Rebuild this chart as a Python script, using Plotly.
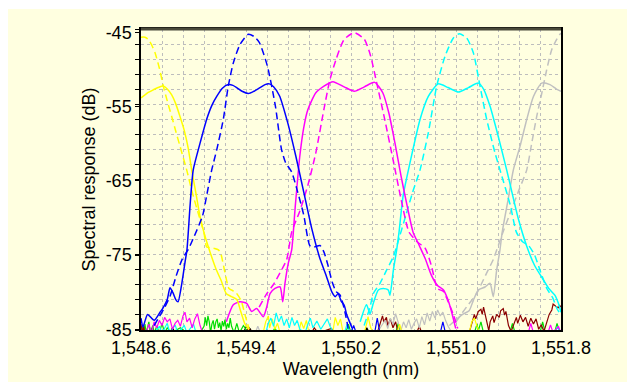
import plotly.graph_objects as go

# ---------------- data (wavelength nm, response dB) ----------------
yellow_solid = [(1548.60,-53.8),(1548.65,-53.1),(1548.694,-52.7),(1548.73,-52.4),(1548.77,-52.2),(1548.80,-52.6),
                (1548.834,-53.4),(1548.865,-54.6),(1548.897,-56.3),(1548.93,-58.2),(1548.96,-60.6),(1548.986,-63.5),
                (1549.02,-66.8),(1549.05,-69.8),(1549.09,-72.6),(1549.13,-74.8),(1549.17,-76.8),(1549.21,-78.4),
                (1549.25,-80.2),(1549.29,-80.6),(1549.33,-81.0),(1549.36,-82.6),(1549.39,-84.2),(1549.42,-85.0)]
yellow_dash = [(1548.60,-45.6),(1548.63,-45.6),(1548.656,-45.9),(1548.68,-46.6),(1548.707,-47.7),(1548.74,-49.8),
               (1548.77,-52.2),(1548.80,-54.2),(1548.834,-56.3),(1548.865,-58.3),(1548.897,-60.3),(1548.948,-63.5),
               (1548.99,-66.5),(1549.04,-69.6),(1549.08,-72.0),(1549.10,-73.9),(1549.13,-74.0),(1549.161,-74.1),
               (1549.19,-74.3),(1549.208,-74.8),(1549.239,-77.3),(1549.27,-79.5),(1549.30,-79.8),(1549.316,-79.9),
               (1549.362,-81.1),(1549.393,-83.1),(1549.424,-85.0)]
blue_solid = [(1548.60,-83.5),(1548.615,-84.7),(1548.65,-83.0),(1548.70,-83.8),(1548.745,-82.7),(1548.768,-82.1),
              (1548.80,-81.0),(1548.821,-79.4),(1548.844,-80.1),(1548.865,-81.0),(1548.882,-81.3),(1548.912,-78.7),
              (1548.935,-76.0),(1548.95,-74.3),(1548.976,-67.8),(1548.998,-63.5),(1549.05,-59.9),(1549.10,-56.7),
              (1549.14,-54.8),(1549.177,-53.6),(1549.22,-52.5),(1549.265,-52.0),(1549.30,-52.1),(1549.329,-52.4),
              (1549.37,-52.9),(1549.418,-53.2),(1549.46,-52.9),(1549.507,-52.4),(1549.545,-52.0),(1549.578,-51.9),
              (1549.61,-52.3),(1549.655,-53.5),(1549.717,-57.1),(1549.779,-61.6),(1549.84,-66.5),(1549.902,-71.5),
              (1549.964,-75.5),(1550.01,-77.7),(1550.055,-80.0),(1550.08,-80.6),(1550.102,-80.2),(1550.125,-81.2),
              (1550.149,-81.8),(1550.165,-82.9),(1550.18,-83.6),(1550.21,-84.9)]
blue_dash = [(1548.70,-84.5),(1548.729,-83.6),(1548.776,-82.2),(1548.822,-80.5),(1548.868,-77.8),(1548.915,-75.5),
             (1548.961,-74.2),(1549.007,-72.4),(1549.069,-69.7),(1549.10,-67.0),(1549.139,-63.5),(1549.177,-60.8),
             (1549.227,-56.7),(1549.265,-52.2),(1549.303,-49.1),(1549.354,-46.6),(1549.418,-45.2),(1549.46,-45.5),
             (1549.501,-46.3),(1549.563,-49.5),(1549.624,-54.9),(1549.67,-60.7),(1549.701,-62.5),(1549.748,-63.8),
             (1549.794,-66.5),(1549.84,-69.6),(1549.886,-73.7),(1549.917,-73.9),(1549.964,-73.7),(1549.994,-74.6),
             (1550.025,-76.4),(1550.056,-78.6),(1550.086,-79.9),(1550.117,-80.4),(1550.148,-82.2),(1550.179,-84.9)]
magenta_solid = [(1549.25,-84.0),(1549.303,-81.7),(1549.354,-81.3),(1549.405,-81.5),(1549.443,-82.6),(1549.481,-82.2),
                 (1549.532,-83.3),(1549.558,-82.0),(1549.583,-80.2),(1549.621,-79.5),(1549.66,-79.3),(1549.68,-81.3),
                 (1549.697,-78.8),(1549.722,-76.1),(1549.748,-74.3),(1549.775,-68.5),(1549.809,-61.8),(1549.84,-57.8),
                 (1549.871,-55.4),(1549.932,-53.1),(1549.994,-52.2),(1550.062,-51.6),(1550.148,-52.3),(1550.225,-52.9),
                 (1550.302,-52.3),(1550.38,-51.7),(1550.442,-53.1),(1550.488,-55.8),(1550.534,-59.8),(1550.581,-64.3),
                 (1550.627,-68.3),(1550.673,-71.9),(1550.72,-73.7),(1550.766,-75.5),(1550.812,-77.7),(1550.859,-79.1),
                 (1550.905,-79.7),(1550.936,-80.9),(1550.967,-82.7),(1550.998,-84.9)]
magenta_dash = [(1549.50,-82.0),(1549.558,-80.2),(1549.608,-79.0),(1549.659,-77.4),(1549.71,-75.6),(1549.748,-71.9),
                (1549.809,-69.1),(1549.871,-65.6),(1549.932,-61.2),(1549.994,-55.3),(1550.04,-51.3),(1550.086,-48.6),
                (1550.148,-45.9),(1550.225,-45.0),(1550.302,-45.9),(1550.349,-48.1),(1550.395,-51.7),(1550.457,-56.7),
                (1550.519,-62.0),(1550.581,-67.4),(1550.642,-71.9),(1550.704,-73.2),(1550.766,-74.1),(1550.812,-76.4),
                (1550.859,-79.5),(1550.905,-79.9),(1550.936,-81.1),(1550.982,-83.1),(1551.013,-84.9)]
cyan_solid = [(1550.27,-84.0),(1550.318,-81.7),(1550.345,-82.9),(1550.37,-81.5),(1550.408,-79.7),(1550.446,-79.5),
              (1550.484,-79.7),(1550.497,-80.4),(1550.523,-77.0),(1550.548,-74.3),(1550.566,-71.9),(1550.597,-67.0),
              (1550.65,-62.5),(1550.726,-56.7),(1550.789,-53.6),(1550.865,-51.9),(1550.94,-52.4),(1551.018,-53.0),
              (1551.095,-52.4),(1551.17,-51.8),(1551.21,-52.6),(1551.259,-54.9),(1551.322,-59.0),(1551.386,-63.5),
              (1551.414,-65.6),(1551.475,-70.1),(1551.537,-73.7),(1551.599,-76.4),(1551.661,-78.2),(1551.707,-79.5),
              (1551.753,-80.4),(1551.78,-81.5),(1551.80,-82.7)]
cyan_dash = [(1550.30,-84.5),(1550.345,-82.0),(1550.37,-80.2),(1550.421,-78.8),(1550.472,-77.0),(1550.523,-75.2),
             (1550.57,-72.5),(1550.62,-69.5),(1550.67,-66.5),(1550.726,-63.5),(1550.789,-58.5),(1550.853,-52.2),
             (1550.916,-48.2),(1550.98,-45.7),(1551.025,-45.15),(1551.081,-45.7),(1551.132,-47.7),(1551.183,-52.2),
             (1551.234,-56.7),(1551.297,-61.2),(1551.335,-63.5),(1551.414,-68.3),(1551.46,-71.9),(1551.507,-73.2),
             (1551.553,-73.7),(1551.599,-75.0),(1551.645,-77.3),(1551.692,-79.5),(1551.738,-80.8),(1551.769,-82.2),
             (1551.80,-83.1)]
gray_solid = [(1550.95,-84.5),(1551.05,-83.0),(1551.10,-82.5),(1551.132,-81.1),(1551.17,-79.7),(1551.221,-79.3),
              (1551.259,-78.8),(1551.284,-80.6),(1551.31,-77.0),(1551.335,-74.3),(1551.352,-71.9),(1551.398,-67.4),
              (1551.437,-63.5),(1551.488,-60.3),(1551.539,-56.7),(1551.59,-53.6),(1551.653,-51.8),(1551.716,-52.0),
              (1551.765,-52.6),(1551.80,-52.9)]
gray_dash = [(1551.00,-84.0),(1551.08,-82.0),(1551.157,-80.2),(1551.196,-78.8),(1551.234,-77.4),(1551.284,-75.6),
             (1551.31,-74.3),(1551.36,-71.8),(1551.42,-69.0),(1551.48,-66.2),(1551.539,-63.5),(1551.577,-59.9),
             (1551.615,-56.3),(1551.653,-53.2),(1551.691,-50.0),(1551.729,-47.3),(1551.767,-45.9),(1551.792,-45.2),
             (1551.80,-45.1)]

# noise floor traces
green_noise = [(1548.60,-85.5),(1548.61,-84.6),(1548.62,-85.5),(1548.63,-84.3),(1548.64,-85.5),(1548.66,-84.0),
               (1548.67,-85.5),(1548.69,-84.5),(1548.70,-85.5),(1548.72,-84.6),(1548.74,-85.5),(1548.76,-84.2),
               (1548.78,-85.5),(1548.80,-84.8),(1548.83,-85.5),(1548.90,-84.8),(1548.95,-85.5),(1549.05,-85.5),
               (1549.08,-84.6),(1549.09,-83.4),(1549.10,-84.5),(1549.11,-83.2),(1549.12,-84.0),(1549.13,-85.5),
               (1549.14,-84.3),(1549.15,-83.8),(1549.16,-85.0),(1549.17,-84.0),(1549.18,-83.6),(1549.19,-84.8),
               (1549.20,-84.1),(1549.21,-85.2),(1549.22,-83.9),(1549.23,-84.6),(1549.24,-83.7),(1549.25,-85.0),
               (1549.26,-84.2),(1549.27,-84.8),(1549.28,-83.5),(1549.29,-84.6),(1549.31,-85.5),(1549.33,-84.2),
               (1549.35,-85.5),(1549.38,-84.5),(1549.42,-85.5),(1549.60,-85.5),(1549.62,-84.8),(1549.64,-85.5),
               (1550.16,-85.5),(1550.18,-84.3),(1550.20,-85.5),(1550.54,-85.5),(1550.56,-84.2),(1550.58,-85.5),
               (1551.14,-85.5),(1551.16,-84.3),(1551.17,-85.2),(1551.19,-84.0),(1551.21,-85.5),(1551.41,-85.5),
               (1551.43,-84.2),(1551.45,-85.5),(1551.64,-85.5),(1551.66,-84.0),(1551.68,-85.5),(1551.75,-85.5),
               (1551.77,-84.2),(1551.79,-85.5)]
maroon_noise = [(1548.60,-84.3),(1548.61,-85.5),(1548.62,-84.6),(1548.63,-85.5),(1549.40,-85.5),(1549.42,-84.7),
                (1549.44,-85.5),(1549.90,-85.5),(1549.92,-84.8),(1549.95,-85.5),(1550.05,-84.9),(1550.08,-85.5),
                (1550.40,-85.5),(1550.42,-84.3),(1550.44,-83.2),(1550.45,-84.0),(1550.47,-83.4),(1550.48,-84.5),
                (1550.50,-83.6),(1550.52,-84.8),(1550.54,-84.0),(1550.56,-85.5),(1550.70,-85.5),(1550.72,-84.6),
                (1550.74,-85.5),(1551.10,-85.5),(1551.12,-84.2),(1551.14,-83.0),(1551.15,-83.6),(1551.17,-82.6),
                (1551.19,-82.3),(1551.20,-83.0),(1551.21,-82.0),(1551.22,-82.8),(1551.24,-84.0),(1551.25,-85.2),
                (1551.26,-84.0),(1551.28,-83.2),(1551.29,-84.1),(1551.31,-83.0),(1551.33,-83.4),(1551.34,-82.5),
                (1551.36,-82.2),(1551.37,-83.1),(1551.38,-82.6),(1551.40,-84.5),(1551.42,-85.3),(1551.44,-84.4),
                (1551.46,-83.4),(1551.47,-84.2),(1551.49,-83.1),(1551.51,-84.0),(1551.53,-83.4),(1551.55,-84.6),
                (1551.57,-83.5),(1551.59,-84.3),(1551.61,-83.6),(1551.63,-85.0),(1551.65,-84.4),(1551.67,-85.3),
                (1551.69,-84.0),(1551.71,-83.0),(1551.73,-82.4),(1551.74,-81.6),(1551.76,-81.9),(1551.78,-82.1),
                (1551.79,-81.8),(1551.80,-82.0)]
magenta_noise = [(1548.60,-85.5),(1548.64,-85.5),(1548.66,-84.3),(1548.68,-85.5),(1548.70,-84.0),(1548.72,-84.8),
                 (1548.74,-83.8),(1548.76,-84.5),(1548.78,-83.4),(1548.80,-84.0),(1548.82,-83.6),(1548.84,-85.0),
                 (1548.86,-84.2),(1548.88,-83.8),(1548.90,-84.6),(1548.92,-83.2),(1548.935,-82.7),(1548.95,-84.0),
                 (1548.97,-83.5),(1548.99,-84.8),(1549.01,-83.6),(1549.03,-82.9),(1549.05,-84.5),(1549.07,-85.5),
                 (1551.55,-85.5),(1551.57,-84.2),(1551.59,-85.5),(1551.70,-85.5),(1551.72,-84.4),(1551.74,-85.5),
                 (1551.78,-84.6),(1551.80,-85.5)]
cyan_noise = [(1548.70,-85.5),(1548.74,-84.6),(1548.76,-85.5),(1548.80,-84.2),(1548.82,-85.5),(1548.86,-84.4),
              (1548.88,-85.5),(1548.93,-84.5),(1548.95,-85.5),(1549.00,-84.3),(1549.02,-85.5),(1549.55,-85.5),
              (1549.57,-84.2),(1549.59,-83.5),(1549.61,-84.6),(1549.63,-82.8),(1549.65,-84.0),(1549.67,-83.2),
              (1549.69,-84.5),(1549.71,-83.6),(1549.73,-84.8),(1549.75,-83.4),(1549.77,-84.5),(1549.79,-83.8),
              (1549.81,-85.0),(1549.85,-85.5),(1549.87,-84.4),(1549.89,-83.5),(1549.91,-84.8),(1549.94,-83.9),
              (1549.97,-85.0),(1550.00,-84.2),(1550.02,-83.6),(1550.04,-84.6),(1550.07,-85.5),(1550.15,-85.5),
              (1550.17,-84.3),(1550.19,-85.5),(1551.75,-85.5),(1551.77,-84.7),(1551.80,-85.5)]
yellow_noise = [(1549.45,-85.5),(1549.53,-85.5),(1549.55,-84.0),(1549.57,-83.2),(1549.58,-84.8),(1549.60,-83.6),
                (1549.62,-85.0),(1549.64,-84.2),(1549.66,-85.5),(1549.80,-85.5),(1549.82,-84.0),(1549.84,-84.9),
                (1549.86,-83.8),(1549.88,-85.5),(1550.06,-85.5),(1550.08,-83.4),(1550.10,-84.5),(1550.12,-83.6),
                (1550.14,-85.5),(1550.30,-85.5),(1550.32,-84.2),(1550.33,-83.3),(1550.35,-84.8),(1550.37,-85.5),
                (1550.55,-85.5),(1550.57,-84.3),(1550.59,-85.5),(1551.10,-85.5),(1551.12,-84.0),(1551.14,-83.5),
                (1551.16,-84.6),(1551.18,-85.5)]
gray_noise = [(1549.47,-85.5),(1549.49,-84.6),(1549.51,-85.5),(1550.40,-85.5),(1550.43,-84.6),(1550.46,-83.8),
              (1550.48,-84.9),(1550.50,-83.5),(1550.52,-84.3),(1550.54,-82.9),(1550.56,-84.1),(1550.58,-85.2),
              (1550.60,-84.0),(1550.62,-84.8),(1550.64,-83.7),(1550.66,-85.0),(1550.68,-84.2),(1550.70,-83.6),
              (1550.72,-84.8),(1550.74,-83.3),(1550.76,-84.4),(1550.78,-82.8),(1550.80,-83.9),(1550.82,-82.6),
              (1550.84,-83.5),(1550.86,-82.4),(1550.88,-83.2),(1550.90,-82.7),(1550.92,-83.8),(1550.94,-84.6),
              (1550.97,-85.5)]
blue_noise = [(1550.20,-85.5),(1550.22,-84.5),(1550.24,-85.5),(1550.38,-85.5),(1550.40,-83.5),(1550.42,-85.5),
              (1550.88,-85.5),(1550.90,-84.0),(1550.92,-85.5)]
black_noise = [(1548.82,-85.5),(1548.84,-84.8),(1548.86,-85.5),(1549.38,-85.5),(1549.40,-84.7),(1549.43,-84.9),
               (1549.45,-85.5),(1550.30,-85.5),(1550.32,-84.8),(1550.34,-85.5)]

x_ticks = [1548.6, 1549.4, 1550.2, 1551.0, 1551.8]
y_ticks = [-45, -55, -65, -75, -85]
y_tick_labels = ["-45", "-55", "-65", "-75", "-85"]
x_range = [1548.6, 1551.8]
y_range = [-85.1, -44.5]

BG = "#FFFFE0"
FONT = "Liberation Sans, Arial, sans-serif"
FS = 18

fig = go.Figure()

def add(series, color, dash=None, width=1.5, spline=False):
    xs, ys = zip(*series)
    line = dict(color=color, width=width)
    if dash:
        line["dash"] = dash
    if spline:
        line["shape"] = "spline"
        line["smoothing"] = 0.6
    fig.add_trace(go.Scatter(x=list(xs), y=list(ys), mode="lines", line=line,
                             hoverinfo="skip", showlegend=False))

# noise floor
add(black_noise, "#000000", width=1.2)
add(green_noise, "#00DD00", width=1.2)
add(maroon_noise, "#8B0000", width=1.2)
add(gray_noise, "#C0C0C0", width=1.2)
add(blue_noise, "#0000FF", width=1.2)
add(yellow_noise, "#FFFF00", width=1.2)
add(cyan_noise, "#00FFFF", width=1.2)
add(magenta_noise, "#FF00FF", width=1.2)

DASH = "7px,4px"
add(gray_solid, "#C0C0C0", spline=True)
add(gray_dash, "#C0C0C0", DASH, spline=True)
add(cyan_solid, "#00FFFF", spline=True)
add(cyan_dash, "#00FFFF", DASH, spline=True)
add(magenta_solid, "#FF00FF", spline=True)
add(magenta_dash, "#FF00FF", DASH, spline=True)
add(yellow_solid, "#FFFF00", spline=True)
add(yellow_dash, "#FFFF00", DASH, spline=True)
add(blue_solid, "#0000FF", spline=True)
add(blue_dash, "#0000FF", DASH, spline=True)

grid = dict(gridcolor="#BDBDBD", griddash="dot", gridwidth=1)

# page body has an 8px margin: figure is sized so the plot area lands at x 141-561, y 29-330
fig.update_layout(
    width=627, height=377,
    margin=dict(l=133, r=74, t=21, b=55, autoexpand=False),
    paper_bgcolor="white",
    plot_bgcolor=BG,
    font=dict(family=FONT, size=FS, color="black"),
    showlegend=False,
    xaxis=dict(
        range=x_range, tickvals=x_ticks, tickformat=",.1f", automargin=False,
        showgrid=True, **grid,
        minor=dict(dtick=0.16, tick0=1548.6, showgrid=True, **grid),
        showline=True, linecolor="black", linewidth=1.5, mirror=True,
        ticks="", ticklen=0, ticklabelstandoff=1, zeroline=False,
        title=dict(text="Wavelength (nm)", standoff=5, font=dict(size=FS)),
        tickfont=dict(size=FS),
    ),
    yaxis=dict(
        range=y_range, tickvals=y_ticks, ticktext=y_tick_labels, automargin=False,
        showgrid=False,
        minor=dict(dtick=(y_range[1] - y_range[0]) / 20, tick0=y_range[0], showgrid=True,
                   ticks="outside", ticklen=4, tickcolor="black", **grid),
        showline=True, linecolor="black", linewidth=1.5, mirror=True,
        ticks="outside", ticklen=4, tickcolor="black", zeroline=False,
        title=dict(text="Spectral response (dB)", standoff=5, font=dict(size=FS)),
        tickfont=dict(size=FS),
    ),
    shapes=[
        dict(type="rect", xref="paper", yref="paper", x0=-0.3214, x1=1.1619, y0=-0.1728, y1=1.0664,
             fillcolor=BG, line=dict(width=0), layer="below"),
        dict(type="line", xref="paper", yref="paper", x0=0, x1=1, y0=1, y1=1,
             line=dict(color="#4A4A3A", width=3), layer="above"),
    ],
)

fig.write_html("out.html")
